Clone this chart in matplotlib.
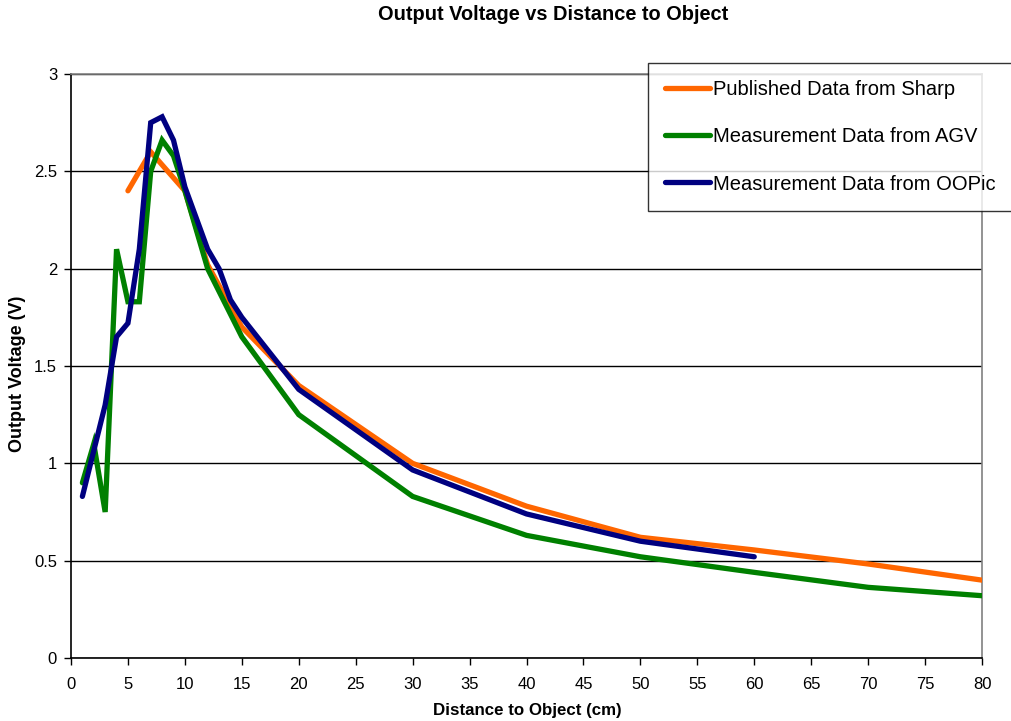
import matplotlib
matplotlib.use("Agg")
import matplotlib.pyplot as plt

plt.rcParams['font.family'] = ['Liberation Sans', 'DejaVu Sans']

# Data
sharp_x = [5, 7, 10, 12, 15, 20, 30, 40, 50, 60, 70, 80]
sharp_y = [2.40, 2.60, 2.40, 2.02, 1.70, 1.40, 1.00, 0.78, 0.62, 0.555, 0.483, 0.40]

agv_x = [1, 2, 3, 4, 5, 6, 7, 8, 9, 10, 12, 15, 20, 30, 40, 50, 60, 70, 80]
agv_y = [0.90, 1.10, 0.75, 2.10, 1.83, 1.83, 2.50, 2.66, 2.58, 2.40, 2.00, 1.65,
         1.25, 0.83, 0.63, 0.52, 0.44, 0.363, 0.32]

oopic_x = [1, 3, 4, 5, 6, 7, 8, 9, 10, 12, 13, 14, 15, 20, 30, 40, 50, 60]
oopic_y = [0.83, 1.30, 1.65, 1.72, 2.10, 2.75, 2.78, 2.66, 2.42, 2.10, 2.00, 1.84,
           1.75, 1.38, 0.966, 0.74, 0.60, 0.52]

x_ticks = list(range(0, 81, 5))
y_ticks = [0, 0.5, 1, 1.5, 2, 2.5, 3]
y_tick_labels = ['0', '0.5', '1', '1.5', '2', '2.5', '3']

W, H = 1011, 721
fig = plt.figure(figsize=(W / 100, H / 100), dpi=100)
ax = fig.add_axes([71/W, 1 - 658/H, (982 - 71)/W, (658 - 74)/H])

lw = 3.8
l1, = ax.plot(sharp_x, sharp_y, color='#FF6600', lw=lw, solid_capstyle='round',
              solid_joinstyle='miter', label='Published Data from Sharp', zorder=3)
l2, = ax.plot(agv_x, agv_y, color='#008000', lw=lw, solid_capstyle='round',
              solid_joinstyle='miter', label='Measurement Data from AGV', zorder=4)
l3, = ax.plot(oopic_x, oopic_y, color='#000080', lw=lw, solid_capstyle='round',
              solid_joinstyle='miter', label='Measurement Data from OOPic', zorder=5)

ax.set_xlim(0, 80)
ax.set_ylim(0, 3)
ax.set_xticks(x_ticks)
ax.set_xticklabels([str(t) for t in x_ticks])
ax.set_yticks(y_ticks)
ax.set_yticklabels(y_tick_labels)
ax.tick_params(axis='both', direction='out', length=5, width=1, labelsize=12,
               colors='black')
ax.tick_params(axis='x', pad=9)
ax.tick_params(axis='y', pad=5)
ax.yaxis.grid(True, color='black', lw=1)
ax.set_axisbelow(True)

for s in ['left', 'bottom']:
    ax.spines[s].set_color('black')
    ax.spines[s].set_linewidth(1.2)
for s in ['top', 'right']:
    ax.spines[s].set_color('#808080')
    ax.spines[s].set_linewidth(1.2)

fig.text(527.5/W, 1 - 710/H, 'Distance to Object (cm)', ha='center', va='center',
         fontsize=12.2, fontweight='bold')
fig.text(18/W, 1 - 374/H, 'Output Voltage (V)', ha='center', va='center',
         rotation=90, fontsize=13, fontweight='bold')
fig.text(553/W, 1 - 15/H, 'Output Voltage vs Distance to Object',
         ha='center', va='center', fontsize=14.4, fontweight='bold')

leg = fig.legend(handles=[l1, l2, l3], loc='upper left',
                 bbox_to_anchor=(648/W, 1 - 63/H), fontsize=14.5,
                 frameon=True, fancybox=False, edgecolor='black',
                 handlelength=2.25, handletextpad=0.15, labelspacing=1.4,
                 borderpad=0.85, borderaxespad=0)
leg.get_frame().set_linewidth(1.0)

fig.savefig('out.png', dpi=100)
